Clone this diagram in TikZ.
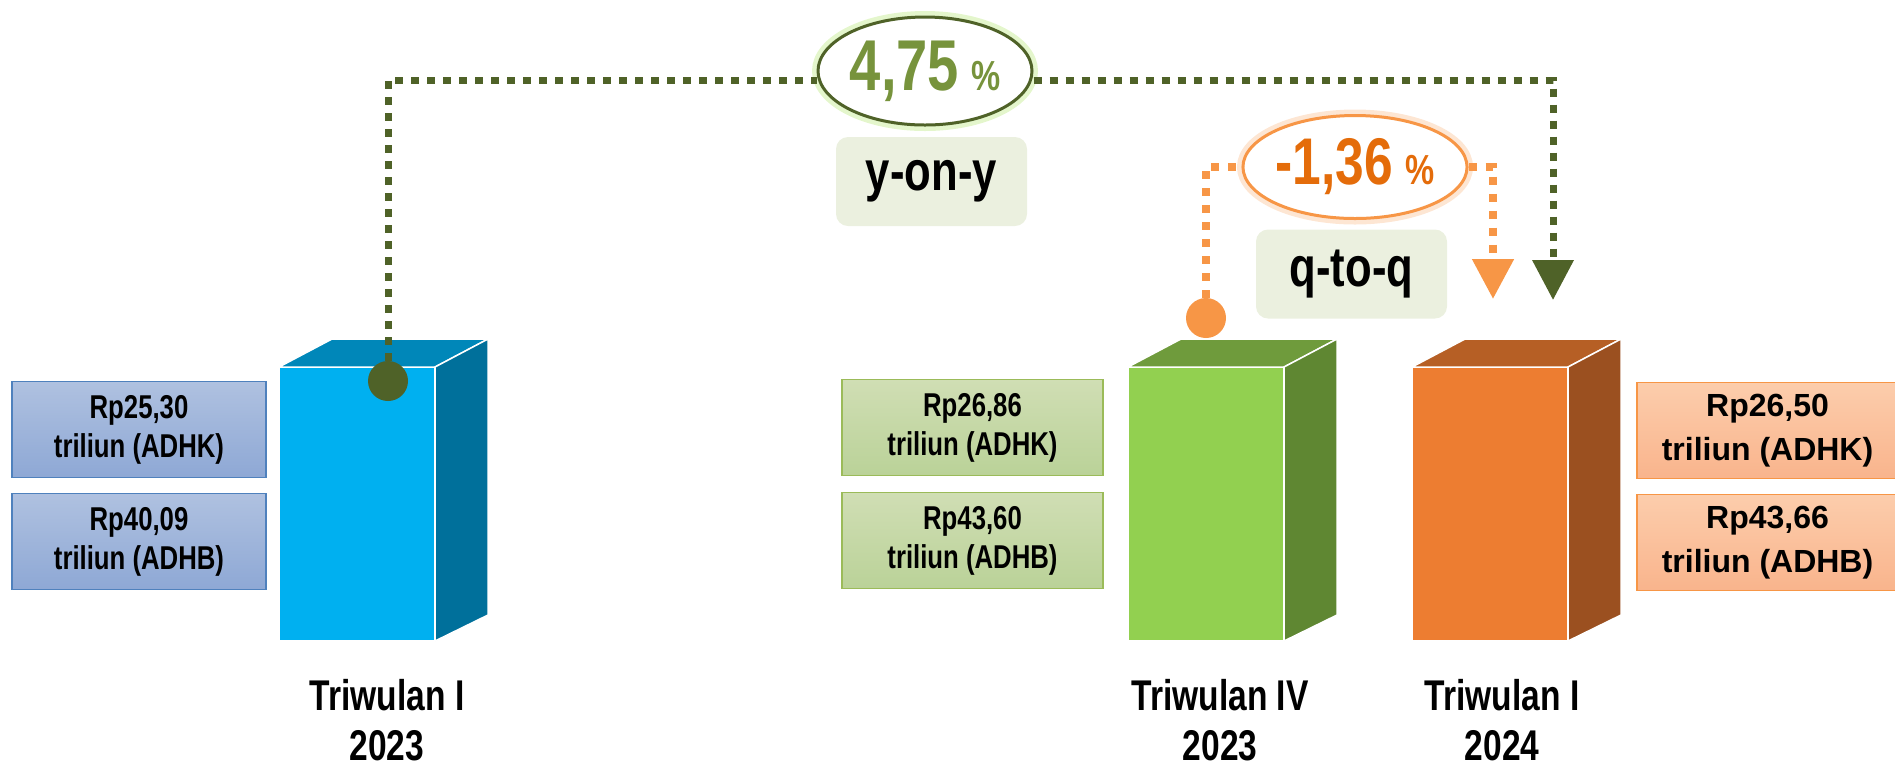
\documentclass[tikz,border=0pt]{standalone}
\usepackage{fontspec}
\setmainfont{Liberation Sans}
\newfontfamily\narrowsans{Liberation Sans}[FakeStretch=0.78]
\usetikzlibrary{shapes.geometric,arrows.meta,positioning}

\definecolor{blueFront}{HTML}{00B0F0}
\definecolor{blueTop}{HTML}{0087B9}
\definecolor{blueSide}{HTML}{00709B}
\definecolor{greenFront}{HTML}{92D050}
\definecolor{greenTop}{HTML}{6F9B3C}
\definecolor{greenSide}{HTML}{5F8732}
\definecolor{orangeFront}{HTML}{ED7D31}
\definecolor{orangeTop}{HTML}{B65F25}
\definecolor{orangeSide}{HTML}{9B5020}
\definecolor{oliveDark}{HTML}{4F6228}
\definecolor{oliveText}{HTML}{77933C}
\definecolor{glowGreen}{HTML}{C9EE9A}
\definecolor{orangeLine}{HTML}{F79646}
\definecolor{orangeText}{HTML}{E46C0A}
\definecolor{glowOrange}{HTML}{FBCDA8}
\definecolor{tagFill}{HTML}{EBF0DF}
\definecolor{blueValTop}{HTML}{AFC1E0}
\definecolor{blueValBot}{HTML}{8EA8D5}
\definecolor{blueValLine}{HTML}{4F81BD}
\definecolor{greenValTop}{HTML}{D0DEB4}
\definecolor{greenValBot}{HTML}{BAD298}
\definecolor{greenValLine}{HTML}{9BBB59}
\definecolor{orangeValTop}{HTML}{FCCDAC}
\definecolor{orangeValBot}{HTML}{F9B48C}

\tikzset{
  valbox/.style={rectangle, minimum width=130.5pt, minimum height=48pt, inner sep=0pt,
    align=center, line width=0.6pt,
    font=\narrowsans\bfseries\fontsize{16.5}{19.5}\selectfont},
  blueval/.style={top color=blueValTop, bottom color=blueValBot, draw=blueValLine, minimum width=127pt},
  greenval/.style={top color=greenValTop, bottom color=greenValBot, draw=greenValLine},
  orangeval/.style={top color=orangeValTop, bottom color=orangeValBot, draw=orangeLine,
    font=\bfseries\fontsize{16}{22}\selectfont},
  pctoval/.style={ellipse, fill=white, line width=1.5pt, inner sep=0pt,
    font=\narrowsans\bfseries},
  tagbox/.style={rectangle, rounded corners=6pt, fill=tagFill, minimum width=95.5pt,
    minimum height=44.5pt, font=\narrowsans\bfseries\fontsize{28}{28}\selectfont},
  dotnode/.style={circle, minimum size=20pt, inner sep=0pt},
  yoyline/.style={draw=oliveDark, line width=3.5pt, dash pattern=on 4pt off 4pt},
  qoqline/.style={draw=orangeLine, line width=4pt, dash pattern=on 4pt off 4.5pt},
  quarter/.style={align=center, font=\narrowsans\bfseries\fontsize{21.5}{25}\selectfont}
}

\begin{document}
\begin{tikzpicture}[x=0.5pt,y=-0.5pt]
\useasboundingbox (0,0) rectangle (1895,768);

% the three bars
\foreach \x/\c/\lx/\lab in {279/blue/387/{Triwulan I\\2023},1128/green/1220/{Triwulan IV\\2023},1412/orange/1502/{Triwulan I\\2024}}{
	\filldraw [fill=\c Front, draw=white, line width=0.75pt] (\x,367) rectangle (\x+156,641);
	\filldraw [fill=\c Top, draw=white, line width=0.75pt] (\x,367) -- (\x+53,339) -- (\x+209,339) -- (\x+156,367) -- cycle;
	\filldraw [fill=\c Side, draw=white, line width=0.75pt] (\x+156,367) -- (\x+209,339) -- (\x+209,615) -- (\x+156,641) -- cycle;
	\node [quarter] (tw\x) at (\lx,720) {\lab};
}

% values beside the bars
\node [valbox, blueval] (q1adhk) at (139,429.5) {Rp25,30\\triliun (ADHK)};
\node [valbox, blueval, below=7.5pt of q1adhk] (q1adhb) {Rp40,09\\triliun (ADHB)};
\node [valbox, greenval] (q4adhk) at (972.5,427.5) {Rp26,86\\triliun (ADHK)};
\node [valbox, greenval, below=8pt of q4adhk] (q4adhb) {Rp43,60\\triliun (ADHB)};
\node [valbox, orangeval] (n1adhk) at (1767.5,430.5) {Rp26,50\\triliun (ADHK)};
\node [valbox, orangeval, below=7.5pt of n1adhk] (n1adhb) {Rp43,66\\triliun (ADHB)};

% growth ovals and tags
\node [pctoval, draw=oliveDark, text=oliveText, minimum width=107pt, minimum height=54pt,
	preaction={draw=glowGreen, line width=6pt, opacity=0.5}] (yoy) at (925,71)
	{{\fontsize{36}{36}\selectfont 4,75}\hspace{6pt}{\fontsize{21}{21}\selectfont\%}};
\node [pctoval, draw=orangeLine, text=orangeText, minimum width=107.5pt, minimum height=51.5pt,
	preaction={draw=glowOrange, line width=6pt, opacity=0.5}] (qoq) at (1355,167)
	{{\fontsize{33}{33}\selectfont -1,36}\hspace{6pt}{\fontsize{21}{21}\selectfont\%}};
\node [tagbox] (yoytag) at (931.5,181.5) {y-on-y};
\node [tagbox] (qoqtag) at (1351.5,274) {q-to-q};

% connectors
\node [dotnode, fill=oliveDark] (q1dot) at (388,381) {};
\node [dotnode, fill=orangeLine] (q4dot) at (1206,318) {};
\coordinate (yoyend) at (1553,300);
\coordinate (qoqend) at (1493,299);

\draw [yoyline] (q1dot.north) |- ([yshift=-4.5pt]yoy.west);
\draw [yoyline, -{Triangle[width=20pt,length=20pt]}] ([yshift=-4.5pt]yoy.east) -| (yoyend);
\draw [qoqline] (q4dot.north) |- (qoq.west);
\draw [qoqline, -{Triangle[width=20pt,length=20pt]}] (qoq.east) -| (qoqend);
\end{tikzpicture}
\end{document}
